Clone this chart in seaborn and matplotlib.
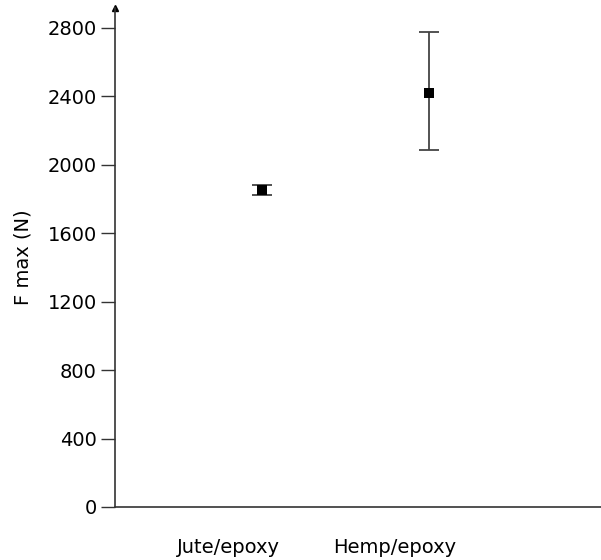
import numpy as np
import pandas as pd
import matplotlib
matplotlib.use('Agg')
import matplotlib.pyplot as plt
import matplotlib.transforms as mtransforms
import seaborn as sns

materials = ['Jute/epoxy', 'Hemp/epoxy']
fmax_mean = [1853, 2420]
fmax_low = [1825, 2088]
fmax_high = [1882, 2775]
yticks = [0, 400, 800, 1200, 1600, 2000, 2400, 2800]

df = pd.DataFrame({'Material': materials, 'Fmax': fmax_mean,
                   'lo': fmax_low, 'hi': fmax_high})

sns.set_theme(style='white')
plt.rcParams['font.family'] = ['DejaVu Sans']
plt.rcParams['text.color'] = 'black'
plt.rcParams['axes.labelcolor'] = 'black'
plt.rcParams['xtick.color'] = 'black'
plt.rcParams['ytick.color'] = 'black'
axis_col = '#333333'

fig = plt.figure(figsize=(6.01, 5.60), dpi=100)
ax = fig.add_axes([115 / 601, 1 - 507 / 560, 1 - 115 / 601, (507 - 8) / 560])

xpos = np.arange(len(materials))
yerr = np.array([df['Fmax'] - df['lo'], df['hi'] - df['Fmax']])
ax.errorbar(xpos, df['Fmax'], yerr=yerr, fmt='none', ecolor='#444444',
            elinewidth=1.3, capsize=7.5, capthick=1.3, zorder=2)
sns.scatterplot(x=xpos, y=df['Fmax'], marker='s', s=60, color='black',
                edgecolor='black', linewidth=0, ax=ax, zorder=3)

ax.set_xlim(-0.88, 2.03)
ax.set_ylim(0, 2915)
ax.set_yticks(yticks)
ax.set_yticklabels([str(v) for v in yticks])
ax.set_xticks(xpos)
ax.set_xticklabels(materials)
ax.tick_params(axis='y', direction='out', length=10, width=1, color=axis_col,
               labelsize=14, labelcolor='black', pad=3, left=True)
ax.tick_params(axis='x', length=0, labelsize=14, labelcolor='black', pad=22)
shift = mtransforms.ScaledTranslation(-34 / 100, 0, fig.dpi_scale_trans)
for lab in ax.get_xticklabels():
    lab.set_transform(lab.get_transform() + shift)

ax.set_ylabel('F max (N)', fontsize=14, labelpad=11, color='black')
ax.set_xlabel('')
for side in ['top', 'right']:
    ax.spines[side].set_visible(False)
for side in ['left', 'bottom']:
    ax.spines[side].set_color(axis_col)
    ax.spines[side].set_linewidth(1.2)
ax.plot([0], [1], marker='^', markersize=4, color='black',
        transform=ax.transAxes, clip_on=False)
ax.grid(False)

fig.savefig('out.png', dpi=100)
